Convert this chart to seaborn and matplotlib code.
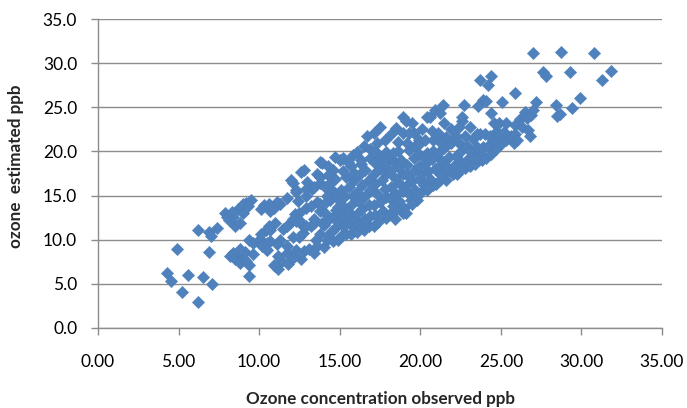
import numpy as np
import pandas as pd
import matplotlib
matplotlib.use('Agg')
import matplotlib.pyplot as plt
import seaborn as sns

# Observed vs estimated ozone (ppb), one line per x-region
x_obs = [
    4.9, 4.3, 4.5, 5.2, 5.6, 6.2, 6.5, 7.1, 6.9, 6.2, 6.9, 7.0, 7.4,
    7.9, 8.1, 8.5, 8.4, 8.7, 9.2, 9.5, 8.0, 8.8, 9.0, 9.0, 9.3, 8.3, 8.2, 8.7, 8.5, 9.0, 9.4, 9.4, 9.1, 8.8, 9.2, 8.4, 8.8, 9.6, 9.4, 9.6, 9.9,
    10.1, 10.3, 10.7, 11.3, 11.7, 10.9, 11.1, 10.6, 10.4, 10.1, 10.2, 10.5, 11.0, 11.4, 11.7, 12.3, 12.1, 11.3, 11.5, 11.9, 12.3, 10.7, 11.1, 10.6,
    11.2, 11.8, 12.6, 12.8, 10.1, 10.7, 11.0, 11.7, 10.5, 10.4, 11.2, 11.7, 10.9, 12.5, 12.1, 12.5,
    12.1, 12.6, 12.0, 12.3, 12.9, 12.9, 13.2, 12.7, 13.5, 13.6, 13.1, 13.9, 13.6, 13.8, 13.6, 13.8, 14.0, 12.5, 12.4, 13.3, 13.0, 12.2, 13.4, 13.2,
    12.7, 12.3, 12.9, 13.4, 13.8, 12.1, 12.9, 13.4, 13.9, 13.8, 13.8, 12.5, 12.8, 13.8, 13.4, 14.2,
    14.0, 14.6, 14.9, 14.3, 14.7, 14.2, 14.6, 14.1, 14.8, 14.4, 14.9, 14.2, 14.6, 14.1, 14.4, 14.7, 14.6, 14.3, 14.7, 15.0, 14.0, 14.5, 14.9, 14.3, 14.8,
    15.1, 15.4, 15.7, 15.2, 15.8, 15.5, 15.1, 15.9, 15.3, 15.7, 15.1, 15.3, 15.8, 15.1, 15.6, 15.4, 15.9, 15.2, 15.7, 15.2, 15.8, 15.5, 15.9, 15.6, 15.4,
    16.1, 16.5, 16.8, 16.2, 16.6, 16.1, 16.9, 16.4, 16.8, 16.2, 16.6, 16.1, 16.9, 16.4, 16.8, 16.2, 16.6, 16.3, 16.3, 16.9, 16.7, 16.5, 16.1, 16.9, 16.5,
    17.1, 17.4, 17.9, 17.2, 17.7, 17.1, 17.5, 17.9, 17.3, 17.8, 17.2, 17.6, 17.1, 17.9, 17.5, 17.1, 17.8, 17.5, 17.2, 17.8, 17.1, 17.5, 17.3, 17.9, 17.6,
    18.1, 18.5, 18.9, 18.3, 18.7, 18.1, 18.5, 18.9, 18.2, 18.7, 18.4, 18.9, 18.1, 18.6, 18.3, 18.8, 18.2, 18.6, 18.3, 18.6, 18.2, 18.9, 18.5, 18.9, 18.4,
    19.0, 19.1, 19.4, 19.8, 19.3, 19.7, 19.1, 19.5, 19.9, 19.2, 19.6, 19.9, 19.2, 19.6, 19.9, 19.3, 19.7, 19.5, 19.6, 19.3, 19.9, 19.2, 19.5, 19.8, 19.1,
    20.0, 20.4, 20.8, 20.2, 20.6, 20.1, 20.5, 20.9, 20.3, 20.7, 20.0, 20.4, 20.8, 20.6, 20.4, 20.9, 20.3, 20.7, 20.2, 20.8, 20.5, 20.1,
    21.0, 21.2, 21.6, 21.4, 21.8, 21.1, 21.6, 21.3, 21.8, 21.1, 21.5, 21.9, 21.2, 21.6, 21.1, 21.4, 21.2, 21.5, 21.9, 21.3,
    22.0, 22.3, 22.8, 22.1, 22.5, 22.9, 22.2, 22.6, 22.4, 22.2, 22.8, 22.6, 22.7, 22.6, 22.4, 22.9, 22.4,
    23.1, 23.4, 23.8, 23.3, 23.7, 23.1, 23.5, 23.9, 23.3, 23.7, 23.1, 23.5, 24.0, 23.6, 23.7, 23.9, 23.5,
    24.1, 24.4, 24.7, 24.2, 24.5, 24.9, 24.3, 24.7, 24.9, 24.6, 24.4, 24.2, 24.1, 24.4, 24.9,
    25.1, 25.3, 25.8, 25.2, 25.6, 25.9, 25.3, 25.1, 25.9, 25.9, 26.3, 26.2, 26.5, 26.6, 26.0, 26.7,
    26.8, 26.9, 27.0, 27.2, 27.0, 28.75, 30.8, 27.6, 27.8, 29.3, 31.85, 31.3, 28.4, 28.5, 29.4, 29.9, 28.7,
]
y_est = [
    8.9, 6.2, 5.3, 4.1, 6.0, 3.0, 5.8, 5.0, 8.6, 11.1, 10.9, 10.4, 11.3,
    13.0, 12.2, 11.5, 12.6, 13.5, 14.2, 14.5, 12.6, 11.9, 13.0, 14.1, 13.8, 13.1, 8.2, 8.5, 7.8, 7.9, 7.1, 5.9, 8.6, 7.4, 7.6, 8.5, 9.0, 8.4, 10.0, 9.6, 9.9,
    13.5, 13.9, 13.2, 14.1, 14.7, 13.6, 14.3, 14.1, 11.1, 10.0, 9.3, 8.8, 7.0, 7.6, 8.5, 8.8, 10.3, 10.0, 11.2, 11.9, 12.1, 9.8, 9.5, 11.5,
    6.7, 7.3, 7.8, 8.7, 10.7, 11.1, 11.9, 11.5, 9.6, 8.9, 8.1, 9.3, 7.1, 8.4, 7.9, 10.3,
    16.4, 17.7, 16.8, 15.6, 14.9, 13.6, 11.5, 10.8, 10.0, 9.3, 8.9, 18.7, 17.4, 16.4, 14.3, 13.2, 11.7, 13.0, 14.4, 15.8, 16.5, 12.9, 12.4, 13.8,
    11.6, 15.4, 15.8, 16.0, 17.1, 12.3, 11.5, 11.9, 11.9, 14.1, 10.6, 12.2, 17.9, 18.8, 8.5, 10.0,
    9.2, 9.8, 10.0, 10.5, 11.3, 12.1, 12.6, 13.0, 13.4, 14.5, 13.7, 15.0, 15.5, 16.0, 16.4, 16.9, 17.9, 18.3, 19.4, 19.0, 14.0, 11.0, 12.0, 17.3, 14.8,
    10.4, 10.6, 10.7, 11.5, 11.4, 12.2, 12.8, 12.5, 13.4, 13.9, 14.1, 14.9, 15.0, 15.6, 16.0, 17.1, 16.8, 17.8, 18.3, 19.2, 19.6, 18.8, 17.6, 13.1, 11.8,
    10.9, 11.1, 11.5, 11.8, 12.3, 12.9, 12.7, 13.5, 13.9, 14.3, 14.9, 15.4, 15.6, 16.2, 16.8, 17.3, 17.9, 18.6, 19.0, 19.2, 21.7, 20.6, 19.9, 20.3, 12.0,
    11.5, 12.0, 12.5, 12.8, 13.3, 13.9, 14.3, 14.8, 15.2, 15.7, 16.3, 16.8, 17.4, 17.5, 18.1, 18.8, 18.6, 19.4, 20.0, 21.3, 22.1, 22.8, 21.0, 19.9, 13.0,
    12.9, 13.4, 13.0, 13.8, 14.4, 14.7, 15.2, 15.5, 16.0, 16.4, 17.0, 17.4, 17.8, 18.2, 18.9, 19.0, 19.3, 20.0, 19.8, 21.1, 22.0, 23.9, 22.6, 22.1, 12.4,
    13.6, 13.0, 14.5, 14.5, 15.2, 15.6, 16.1, 16.6, 16.9, 17.3, 17.8, 18.3, 18.5, 19.3, 19.7, 20.2, 20.6, 23.2, 22.1, 22.1, 21.3, 21.0, 14.0, 15.0, 23.5,
    15.3, 15.6, 16.2, 16.2, 16.9, 17.4, 17.8, 18.0, 18.6, 19.1, 20.9, 19.8, 21.3, 23.9, 23.9, 24.7, 21.3, 22.3, 19.2, 20.1, 16.0, 22.5,
    16.3, 16.8, 16.8, 17.5, 17.9, 18.2, 18.3, 19.0, 19.4, 19.8, 20.4, 20.9, 21.1, 21.6, 22.1, 25.3, 24.4, 23.2, 22.5, 17.3,
    17.5, 17.4, 18.1, 18.4, 18.8, 19.0, 19.5, 20.2, 21.0, 21.7, 21.8, 23.5, 25.3, 23.9, 22.8, 20.6, 17.8,
    18.3, 18.6, 19.0, 19.3, 19.8, 20.0, 20.5, 20.5, 21.4, 22.0, 22.8, 22.0, 22.0, 25.1, 28.1, 25.8, 19.2,
    19.3, 19.7, 20.3, 20.6, 21.3, 20.9, 21.8, 22.2, 22.0, 23.2, 28.6, 27.5, 25.7, 24.4, 23.2,
    20.9, 21.3, 20.9, 22.2, 21.7, 22.0, 23.2, 25.6, 26.6, 23.0, 22.8, 23.7, 24.5, 23.8, 21.3, 22.4,
    21.7, 24.1, 24.7, 25.6, 31.1, 31.3, 31.1, 29.0, 28.5, 29.0, 29.1, 28.1, 25.3, 24.0, 24.9, 26.1, 24.2,
]

x_ticks = [0, 5, 10, 15, 20, 25, 30, 35]
y_ticks = [0, 5, 10, 15, 20, 25, 30, 35]

df = pd.DataFrame({'observed': x_obs, 'estimated': y_est})

sns.set_style('white')
plt.rcParams['font.family'] = ['Lato', 'DejaVu Sans']

grid_col = '#8c8c8c'

fig = plt.figure(figsize=(6.87, 4.08), dpi=100)
ax = fig.add_axes([98 / 687, 1 - 328 / 408, 564 / 687, 309 / 408])

sns.scatterplot(data=df, x='observed', y='estimated', marker='D', s=40,
                color='#4F81BD', edgecolor='#4A7EBB', linewidth=0.3, ax=ax, zorder=3)

ax.set_xlim(0, 35)
ax.set_ylim(0, 35)
ax.set_xticks(x_ticks)
ax.set_yticks(y_ticks)
ax.set_xticklabels([f'{t:.2f}' for t in x_ticks])
ax.set_yticklabels([f'{t:.1f}' for t in y_ticks])

ax.yaxis.grid(True, color=grid_col, linewidth=1.0)
ax.xaxis.grid(False)
ax.set_axisbelow(True)

for side in ['top', 'right']:
    ax.spines[side].set_visible(False)
for side in ['left', 'bottom']:
    ax.spines[side].set_color(grid_col)
    ax.spines[side].set_linewidth(1.0)

ax.tick_params(axis='x', direction='out', length=5, width=1, color=grid_col,
               pad=14, labelsize=12.5, labelcolor='black', bottom=True)
ax.tick_params(axis='y', direction='out', length=5, width=1, color=grid_col,
               pad=10, labelsize=12.5, labelcolor='black', left=True)

ax.set_xlabel('Ozone concentration observed ppb', fontsize=12.3, fontweight='bold')
ax.set_ylabel('ozone  estimated ppb', fontsize=12.3, fontweight='bold')
ax.xaxis.set_label_coords(0.5, -0.205)
ax.yaxis.set_label_coords(-0.131, 0.523)

fig.savefig('out.png', dpi=100)
